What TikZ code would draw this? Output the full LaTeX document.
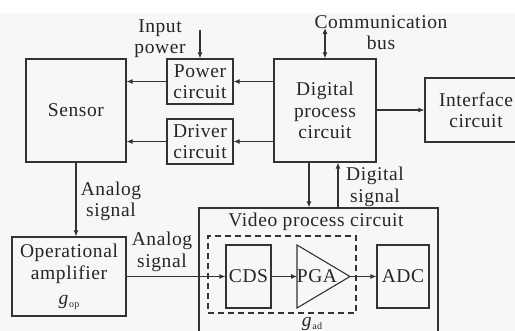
\documentclass[tikz,border=0pt]{standalone}
\usepackage{fontspec}
\setmainfont{Liberation Serif}[LetterSpace=3]
\usetikzlibrary{arrows.meta,calc}
\begin{document}
\begin{tikzpicture}[x=1pt,y=-1pt,
  line width=1.1pt,
  every node/.style={text=black!85},
  txt/.style={font=\fontsize{19.5}{21.5}\selectfont, align=center, inner sep=0pt},
  blk/.style={draw=black!80, line width=1.1pt, txt},
  arr/.style={draw=black!80, -{Latex[length=6pt,width=5pt]}},
  darr/.style={draw=black!80, {Latex[length=6pt,width=5pt]}-{Latex[length=6pt,width=5pt]}}
]
\clip (0,0) rectangle (515,331);
\useasboundingbox (0,0) rectangle (515,331);
\fill[black!3] (0,13) rectangle (515,331);

% blocks
\node[blk, minimum width=100pt, minimum height=103pt] (sensor) at (76,110.5) {Sensor};
\node[blk, minimum width=66pt, minimum height=45pt] (power) at (200,81.5) {Power\\circuit};
\node[blk, minimum width=66pt, minimum height=45pt] (driver) at (200,141.5) {Driver\\circuit};
\node[blk, minimum width=102pt, minimum height=103pt] (digital) at (325,110.5) {Digital\\process\\circuit};
\node[blk, minimum width=102pt, minimum height=64pt] (iface) at (476,110) {Interface\\circuit};
\node[blk, minimum width=114pt, minimum height=79pt, font=\fontsize{19.5}{22.5}\selectfont] (opamp) at (69,276.5) {Operational\\amplifier\\[2pt]\textit{g}\raisebox{-0.35ex}{\fontsize{10}{10}\selectfont op}};
\node[draw=black!80, minimum width=239pt, minimum height=140pt, inner sep=0pt] (video) at (318.5,278) {};
\node[txt, anchor=center] (videolbl) at (316,222) {Video process circuit};
\node[draw=black!80, dashed, dash pattern=on 6pt off 4pt, minimum width=148pt, minimum height=77pt, inner sep=0pt] (gadbox) at (282,274.5) {};
\node[txt] (gad) at (312,324) {\textit{g}\raisebox{-0.35ex}{\fontsize{10}{10}\selectfont ad}};
\node[blk, minimum width=45pt, minimum height=63pt] (cds) at (248.5,276.5) {CDS};
\node[blk, minimum width=52pt, minimum height=63pt] (adc) at (403,276.5) {ADC};
\draw[draw=black!80] (297,245) -- (297,308) -- (350,276.5) -- cycle;
\node[txt] (pga) at (317,276) {PGA};
\coordinate (pgaL) at (297,276.5);
\coordinate (pgaR) at (350,276.5);

% labels
\node[txt] (inpower) at (160,38.5) {Input\\power};
\node[txt] (commbus) at (381,32.5) {Communication\\bus};
\node[txt] (analog1) at (111,201.5) {Analog\\signal};
\node[txt] (analog2) at (162,252) {Analog\\signal};
\node[txt] (digsig) at (375,187) {Digital\\signal};

% coordinates
\coordinate (inp) at (200,30);
\coordinate (cb) at (325,28);
\coordinate (dn) at (309,0);
\coordinate (up) at (338,0);

% connectors
\draw[arr] (inp) -- (power.north);
\draw[darr] (cb) -- (digital.north);
\draw[arr] (digital.west |- power.east) -- (power.east);
\draw[arr] (power.west) -- (sensor.east |- power.west);
\draw[arr] (digital.west |- driver.east) -- (driver.east);
\draw[arr] (driver.west) -- (sensor.east |- driver.west);
\draw[arr] (digital.east |- iface.west) -- (iface.west);
\draw[arr] (sensor.south) -- (sensor.south |- opamp.north);
\draw[arr] (opamp.east |- cds.west) -- (cds.west);
\draw[arr] (cds.east) -- (pgaL);
\draw[arr] (pgaR) -- (adc.west);
\draw[arr] (dn |- digital.south) -- (dn |- video.north);
\draw[arr] (up |- video.north) -- (up |- digital.south);
\end{tikzpicture}
\end{document}
